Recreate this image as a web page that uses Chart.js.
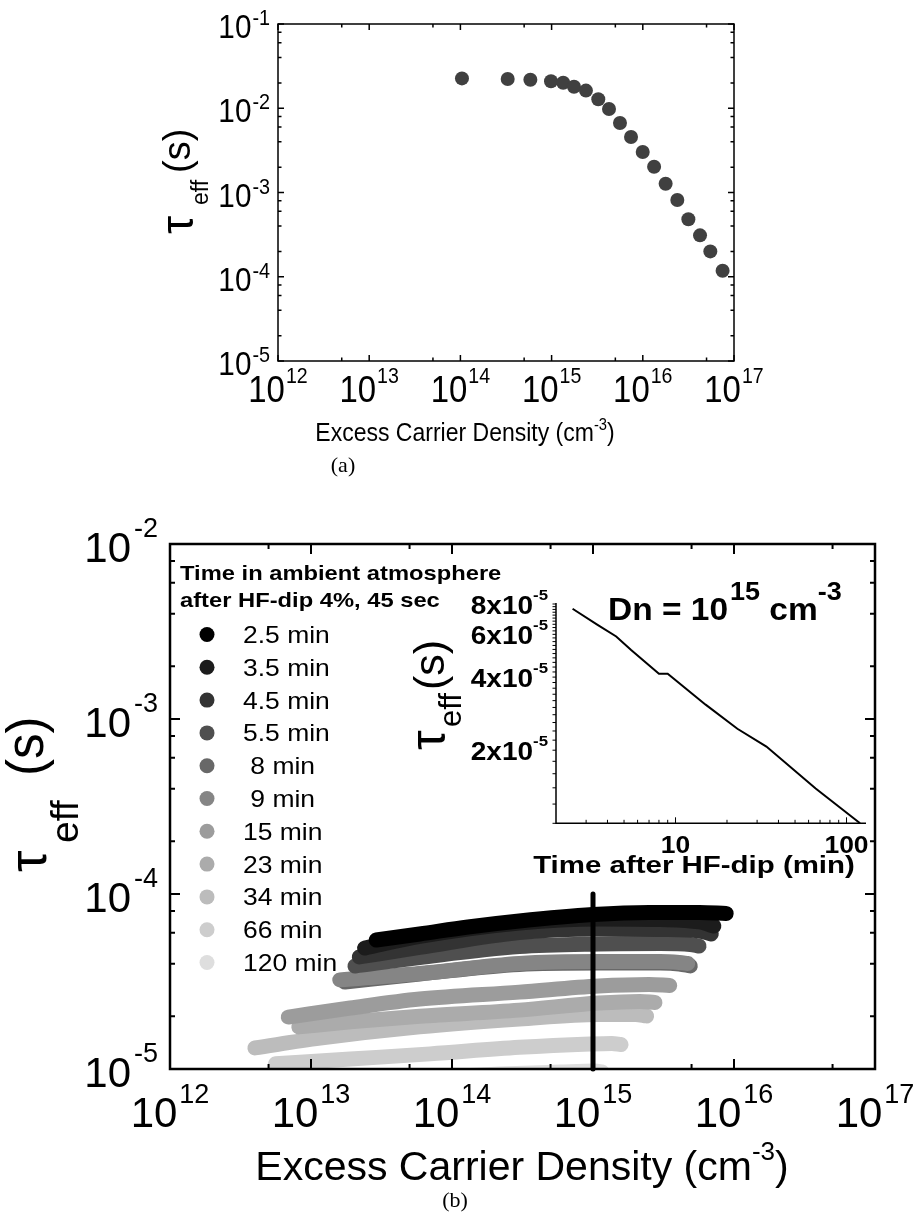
<!DOCTYPE html>
<html>
<head>
<meta charset="utf-8">
<script src="https://cdn.jsdelivr.net/npm/chart.js@4.4.1/dist/chart.umd.min.js"></script>
<style>
  html, body { margin: 0; padding: 0; background: #fff; }
  #wrap { position: relative; width: 920px; height: 1218px; }
  #wrap canvas { position: absolute; left: 0; top: 0; }
</style>
</head>
<body>
<div id="wrap">
  <canvas id="chartA" width="920" height="1218"></canvas>
  <canvas id="chartB" width="920" height="1218"></canvas>
  <canvas id="inset" width="920" height="1218"></canvas>
</div>
<script>
// (a) effective lifetime vs excess carrier density
const densityA = [1.04e14, 3.3e14, 5.85e14, 9.85e14, 1.34e15, 1.76e15, 2.38e15, 3.25e15, 4.26e15, 5.62e15,
                  7.43e15, 9.98e15, 1.33e16, 1.78e16, 2.39e16, 3.16e16, 4.24e16, 5.5e16, 7.5e16];
const tauA = [0.0226, 0.0222, 0.0218, 0.0209, 0.0201, 0.0180, 0.0162, 0.0128, 0.0098, 0.00668,
              0.00456, 0.00303, 0.00202, 0.00127, 8.15e-4, 4.81e-4, 3.10e-4, 2.0e-4, 1.18e-4];

// (b) one curve per time in ambient air after the HF dip
const times = ['2.5 min', '3.5 min', '4.5 min', '5.5 min', ' 8 min', ' 9 min', '15 min', '23 min', '34 min', '66 min', '120 min'];
const shades = ['#000000', '#1c1c1c', '#333333', '#4f4f4f', '#686868', '#858585', '#9c9c9c', '#ababab', '#bcbcbc', '#cdcdcd', '#dedede'];

const dn25 = [2.9e13, 5.9e13, 1.3e14, 3.0e14, 1.0e15, 2.5e15, 5.7e15, 8.8e15];
const tau25 = [5.46e-5, 5.91e-5, 6.48e-5, 7.01e-5, 7.63e-5, 7.84e-5, 7.84e-5, 7.74e-5];
const dn35 = [2.4e13, 5.9e13, 3.0e14, 1.1e15, 3.0e15, 5.7e15, 7.2e15];
const tau35 = [4.91e-5, 5.72e-5, 6.83e-5, 7.20e-5, 7.15e-5, 6.92e-5, 6.56e-5];
const dn45 = [2.2e13, 5.9e13, 3.0e14, 1.1e15, 3.0e15, 5.7e15, 6.9e15];
const tau45 = [4.37e-5, 4.95e-5, 6.03e-5, 6.31e-5, 6.27e-5, 6.15e-5, 5.91e-5];
const dn55 = [2.05e13, 5.9e13, 3.0e14, 1.1e15, 3.0e15, 4.9e15, 5.65e15];
const tau55 = [3.88e-5, 4.34e-5, 5.01e-5, 5.18e-5, 5.21e-5, 5.15e-5, 5.04e-5];
const dn8 = [1.74e13, 5.9e13, 3.0e14, 1.1e15, 3.0e15, 4.1e15, 4.9e15];
const tau8 = [3.14e-5, 3.49e-5, 3.96e-5, 4.03e-5, 4.03e-5, 3.98e-5, 3.88e-5];
const dn9 = [1.6e13, 5.9e13, 3.0e14, 1.1e15, 3.0e15, 4.1e15, 4.7e15];
const tau9 = [3.23e-5, 3.51e-5, 4.01e-5, 4.11e-5, 4.11e-5, 4.06e-5, 4.01e-5];
const dn15 = [6.9e12, 1.9e13, 5.9e13, 3.0e14, 1.1e15, 2.5e15, 3.5e15];
const tau15 = [1.98e-5, 2.23e-5, 2.51e-5, 2.75e-5, 2.98e-5, 3.04e-5, 3.0e-5];
const dn23 = [8.2e12, 1.9e13, 5.9e13, 3.0e14, 1.1e15, 2.15e15, 2.75e15];
const tau23 = [1.74e-5, 1.86e-5, 2.0e-5, 2.17e-5, 2.38e-5, 2.43e-5, 2.40e-5];
const dn34 = [4.0e12, 1.16e13, 5.9e13, 3.0e14, 1.1e15, 2.0e15, 2.4e15];
const tau34 = [1.32e-5, 1.50e-5, 1.74e-5, 1.93e-5, 2.05e-5, 2.05e-5, 2.01e-5];
const dn66 = [5.6e12, 1.9e13, 7.0e13, 3.0e14, 9.5e14, 1.36e15, 1.58e15];
const tau66 = [1.07e-5, 1.14e-5, 1.22e-5, 1.33e-5, 1.39e-5, 1.40e-5, 1.38e-5];
const dn120 = [6.5e12, 4.3e13, 2.2e14, 5.8e14, 1.03e15, 1.16e15];
const tau120 = [8.0e-6, 8.77e-6, 9.36e-6, 9.61e-6, 9.74e-6, 9.61e-6];

const bandDn = [dn25, dn35, dn45, dn55, dn8, dn9, dn15, dn23, dn34, dn66, dn120];
const bandTau = [tau25, tau35, tau45, tau55, tau8, tau9, tau15, tau23, tau34, tau66, tau120];

// marker at Dn = 1e15
const cutDn = [1e15, 1e15];
const cutTau = [1e-4, 1e-5];

// inset: lifetime at Dn = 1e15 vs time after dip
const insetTimes = [2.5, 3.5, 4.5, 5.5, 8, 9, 15, 23, 34, 66, 120];
const insetTau = [7.65e-5, 6.56e-5, 5.88e-5, 5.17e-5, 4.13e-5, 4.13e-5, 3.08e-5, 2.45e-5, 2.07e-5, 1.39e-5, 1.0e-5];

// ticks
const decadesX = [1e12, 1e13, 1e14, 1e15, 1e16, 1e17];
const expX = ['12', '13', '14', '15', '16', '17'];
const minorX = [5e12, 5e13, 5e14, 5e15, 5e16];
const decadesA = [1e-5, 1e-4, 1e-3, 1e-2, 1e-1];
const expA = ['-5', '-4', '-3', '-2', '-1'];
const decadesB = [1e-5, 1e-4, 1e-3, 1e-2];
const expB = ['-5', '-4', '-3', '-2'];
const minorMult = [2, 4, 6, 8];
const insetXMajor = [10, 100];
const insetXLabels = ['10', '100'];
const insetXMinor = [3, 4, 5, 6, 7, 8, 9, 20, 30, 40, 50, 60, 70, 80, 90];
const insetYMajor = [2e-5, 4e-5, 6e-5, 8e-5];
const insetYLabels = ['2x10', '4x10', '6x10', '8x10'];

const SANS = '"Liberation Sans", Arial, Helvetica, sans-serif';
const SERIF = '"Liberation Serif", "DejaVu Serif", serif';
const f = (size, weight) => `${weight || 'normal'} ${size}px ${SANS}`;

const minorOf = decades => decades.slice(0, -1).flatMap(d => minorMult.map(m => d * m));

// draws a row of text pieces (for superscripts), optionally stretched horizontally
function runs(ctx, parts, x, y, align, sx) {
  sx = sx || 1;
  let w = 0;
  parts.forEach(p => { ctx.font = p.font; p.w = ctx.measureText(p.t).width * sx + (p.gap || 0); w += p.w; });
  let cx = align === 'center' ? x - w / 2 : align === 'right' ? x - w : x;
  ctx.save();
  ctx.fillStyle = '#000';
  ctx.textAlign = 'left';
  ctx.textBaseline = 'alphabetic';
  parts.forEach(p => {
    ctx.font = p.font;
    ctx.save();
    ctx.translate(cx + (p.gap || 0), y + (p.dy || 0));
    ctx.scale(sx, 1);
    ctx.fillText(p.t, 0, 0);
    ctx.restore();
    cx += p.w;
  });
  ctx.restore();
}

// vertical text, reading upwards; x is the baseline, y where the piece starts
function upText(ctx, t, font, x, y) {
  ctx.save();
  ctx.font = font;
  ctx.fillStyle = '#000';
  ctx.textAlign = 'left';
  ctx.textBaseline = 'alphabetic';
  ctx.translate(x, y);
  ctx.rotate(-Math.PI / 2);
  ctx.fillText(t, 0, 0);
  ctx.restore();
}

// closed frame with inward ticks on all four sides
function frameTicks(chart, o) {
  const { ctx, chartArea: a } = chart;
  const xs = chart.scales.x, ys = chart.scales.y;
  ctx.save();
  ctx.strokeStyle = '#000';
  ctx.lineWidth = o.tick;
  ctx.beginPath();
  const xt = (v, len) => {
    const p = xs.getPixelForValue(v);
    ctx.moveTo(p, a.bottom); ctx.lineTo(p, a.bottom - len);
    ctx.moveTo(p, a.top); ctx.lineTo(p, a.top + len);
  };
  const yt = (v, len) => {
    const p = ys.getPixelForValue(v);
    ctx.moveTo(a.left, p); ctx.lineTo(a.left + len, p);
    ctx.moveTo(a.right, p); ctx.lineTo(a.right - len, p);
  };
  o.xMajor.forEach(v => xt(v, o.major));
  o.xMinor.forEach(v => xt(v, o.minor));
  o.yMajor.forEach(v => yt(v, o.major));
  o.yMinor.forEach(v => yt(v, o.minor));
  ctx.stroke();
  ctx.lineWidth = o.frame;
  ctx.strokeRect(a.left, a.top, a.right - a.left, a.bottom - a.top);
  ctx.restore();
}

const decorA = {
  id: 'decorA',
  afterDraw(chart) {
    const { ctx } = chart;
    const xs = chart.scales.x, ys = chart.scales.y;
    frameTicks(chart, { frame: 1.5, tick: 1.5, major: 6, minor: 3.5,
      xMajor: decadesX, xMinor: minorX, yMajor: decadesA, yMinor: minorOf(decadesA) });
    decadesA.forEach((v, i) => {
      const p = ys.getPixelForValue(v);
      runs(ctx, [{ t: '10', font: f(33) }, { t: expA[i], font: f(22), dy: -13, gap: 1 }], 270, p + 14, 'right', 0.9);
    });
    decadesX.forEach((v, i) => {
      const p = xs.getPixelForValue(v);
      runs(ctx, [{ t: '10', font: f(37) }, { t: expX[i], font: f(22), dy: -19, gap: 1 }], p, 402, 'center', 0.89);
    });
    runs(ctx, [{ t: 'Excess Carrier Density (cm', font: f(25) }, { t: '-3', font: f(16), dy: -11 }, { t: ')', font: f(25) }], 465, 441, 'center', 0.92);
    upText(ctx, '\u03c4', f(46), 193, 234);
    upText(ctx, 'eff', f(23), 208, 205);
    upText(ctx, '(s)', f(38), 190, 173);
    ctx.save();
    ctx.font = `22px ${SERIF}`;
    ctx.fillStyle = '#000';
    ctx.textAlign = 'center';
    ctx.fillText('(a)', 343, 472);
    ctx.restore();
  }
};

const decorB = {
  id: 'decorB',
  afterDraw(chart) {
    const { ctx } = chart;
    const xs = chart.scales.x, ys = chart.scales.y;
    frameTicks(chart, { frame: 2.5, tick: 2, major: 10, minor: 5,
      xMajor: decadesX, xMinor: minorX, yMajor: decadesB, yMinor: minorOf(decadesB) });
    decadesB.forEach((v, i) => {
      const p = ys.getPixelForValue(v);
      runs(ctx, [{ t: '10', font: f(42) }, { t: expB[i], font: f(27), dy: -25, gap: 3 }], 158, p + 18, 'right');
    });
    decadesX.forEach((v, i) => {
      const p = xs.getPixelForValue(v);
      runs(ctx, [{ t: '10', font: f(42) }, { t: expX[i], font: f(27), dy: -24, gap: 2 }], p, 1127, 'center');
    });
    runs(ctx, [{ t: 'Excess Carrier Density (cm', font: f(41) }, { t: '-3', font: f(26), dy: -20 }, { t: ')', font: f(41) }], 522, 1180, 'center');
    upText(ctx, '\u03c4', f(54), 46, 872);
    upText(ctx, 'eff', f(39), 78, 843);
    upText(ctx, '(s)', f(51), 43, 776);
    ctx.save();
    ctx.font = `22px ${SERIF}`;
    ctx.fillStyle = '#000';
    ctx.textAlign = 'center';
    ctx.fillText('(b)', 455, 1207);
    ctx.restore();

    // legend
    runs(ctx, [{ t: 'Time in ambient atmosphere', font: f(21, 'bold') }], 180, 580, 'left', 1.13);
    runs(ctx, [{ t: 'after HF-dip 4%, 45 sec', font: f(21, 'bold') }], 180, 607, 'left', 1.13);
    times.forEach((t, i) => {
      const yy = 634.5 + i * 32.8;
      ctx.save();
      ctx.fillStyle = shades[i];
      ctx.beginPath();
      ctx.arc(207, yy, 7.5, 0, Math.PI * 2);
      ctx.fill();
      ctx.restore();
      runs(ctx, [{ t: t, font: f(24.5) }], 243, yy + 8.5, 'left', 1.08);
    });
  }
};

const decorInset = {
  id: 'decorInset',
  afterDraw(chart) {
    const { ctx, chartArea: a } = chart;
    const xs = chart.scales.x, ys = chart.scales.y;
    ctx.save();
    ctx.strokeStyle = '#000';
    ctx.lineWidth = 1;
    ctx.beginPath();
    for (let v = 1e-5; v <= 8.01e-5; v += 2e-6) {
      const p = ys.getPixelForValue(v);
      ctx.moveTo(a.left, p); ctx.lineTo(a.left - 3.5, p);
    }
    insetXMinor.forEach(v => { const p = xs.getPixelForValue(v); ctx.moveTo(p, a.bottom); ctx.lineTo(p, a.bottom - 3.5); });
    insetXMajor.forEach(v => { const p = xs.getPixelForValue(v); ctx.moveTo(p, a.bottom); ctx.lineTo(p, a.bottom - 6); });
    ctx.stroke();
    ctx.lineWidth = 1.5;
    ctx.beginPath();
    ctx.moveTo(a.left, a.top - 1);
    ctx.lineTo(a.left, a.bottom);
    ctx.lineTo(a.right, a.bottom);
    ctx.stroke();
    ctx.restore();

    insetYMajor.forEach((v, i) => {
      const p = ys.getPixelForValue(v);
      runs(ctx, [{ t: insetYLabels[i], font: f(25, 'bold') }, { t: '-5', font: f(15, 'bold'), dy: -14 }], 548, p + 9.5, 'right', 1.12);
    });
    insetXMajor.forEach((v, i) => {
      const p = xs.getPixelForValue(v);
      runs(ctx, [{ t: insetXLabels[i], font: f(23, 'bold') }], p, 853, 'center', 1.15);
    });
    runs(ctx, [{ t: 'Time after HF-dip (min)', font: f(23, 'bold') }], 694, 873, 'center', 1.28);
    runs(ctx, [{ t: 'Dn = 10', font: f(31, 'bold') }, { t: '15', font: f(25, 'bold'), dy: -20, gap: 2 },
               { t: ' cm', font: f(31, 'bold') }, { t: '-3', font: f(25, 'bold'), dy: -20 }], 608, 620, 'left', 1.08);
    upText(ctx, '\u03c4', f(50), 445, 750);
    upText(ctx, 'eff', f(31), 461, 727);
    upText(ctx, '(s)', f(43), 444, 690);
  }
};

const baseOptions = (padding, xRange, yRange) => ({
  responsive: false,
  animation: false,
  devicePixelRatio: 1,
  events: [],
  layout: { padding: padding },
  scales: {
    x: { type: 'logarithmic', min: xRange[0], max: xRange[1], display: false },
    y: { type: 'logarithmic', min: yRange[0], max: yRange[1], display: false }
  },
  plugins: { legend: { display: false }, tooltip: { enabled: false } }
});

new Chart(document.getElementById('chartA'), {
  type: 'scatter',
  data: {
    datasets: [{
      data: densityA.map((x, i) => ({ x: x, y: tauA[i] })),
      pointRadius: 7,
      pointBackgroundColor: '#404040',
      pointBorderWidth: 0,
      clip: false
    }]
  },
  options: baseOptions({ left: 278, top: 24, right: 186, bottom: 857 }, [1e12, 1e17], [1e-5, 1e-1]),
  plugins: [decorA]
});

const bandSets = bandDn.map((xs, k) => ({
  label: times[k],
  data: xs.map((x, i) => ({ x: x, y: bandTau[k][i] })),
  borderColor: shades[k],
  borderWidth: 15,
  borderCapStyle: 'round',
  borderJoinStyle: 'round',
  cubicInterpolationMode: 'monotone',
  pointRadius: 0,
  clip: 0,
  order: k === 4 ? 1 : 0
}));

bandSets.push({
  label: 'cut',
  data: cutDn.map((x, i) => ({ x: x, y: cutTau[i] })),
  borderColor: '#000',
  borderWidth: 5,
  borderCapStyle: 'round',
  pointRadius: 0,
  clip: false,
  order: -1
});

new Chart(document.getElementById('chartB'), {
  type: 'line',
  data: { datasets: bandSets },
  options: baseOptions({ left: 170, top: 544, right: 45, bottom: 149 }, [1e12, 1e17], [1e-5, 1e-2]),
  plugins: [decorB]
});

new Chart(document.getElementById('inset'), {
  type: 'line',
  data: {
    datasets: [{
      data: insetTimes.map((t, i) => ({ x: t, y: insetTau[i] })),
      borderColor: '#000',
      borderWidth: 2,
      pointRadius: 0,
      tension: 0,
      clip: false
    }]
  },
  options: baseOptions({ left: 556, top: 604, right: 54, bottom: 394.7 }, [2, 130], [1e-5, 8e-5]),
  plugins: [decorInset]
});
</script>
</body>
</html>
